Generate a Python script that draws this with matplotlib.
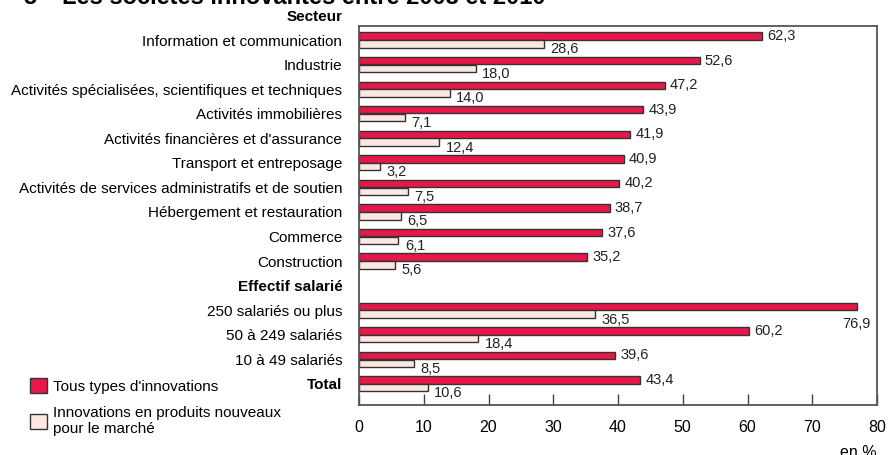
import matplotlib
matplotlib.use("Agg")
import matplotlib.pyplot as plt
from matplotlib.patches import Patch

plt.rcParams['font.family'] = ['Liberation Sans', 'DejaVu Sans']

# rows (group headers have no bars)
labels = ["Information et communication", "Industrie",
          "Activités spécialisées, scientifiques et techniques",
          "Activités immobilières", "Activités financières et d'assurance",
          "Transport et entreposage",
          "Activités de services administratifs et de soutien",
          "Hébergement et restauration", "Commerce", "Construction",
          "Effectif salarié", "250 salariés ou plus", "50 à 249 salariés",
          "10 à 49 salariés", "Total"]
headers = ["Effectif salarié", "Total"]
tous = [62.3, 52.6, 47.2, 43.9, 41.9, 40.9, 40.2, 38.7, 37.6, 35.2,
        None, 76.9, 60.2, 39.6, 43.4]
nouveaux = [28.6, 18.0, 14.0, 7.1, 12.4, 3.2, 7.5, 6.5, 6.1, 5.6,
            None, 36.5, 18.4, 8.5, 10.6]
xticks = [0, 10, 20, 30, 40, 50, 60, 70, 80]

red = '#E8174A'
pink = '#FDE7E3'
edge = '#333333'


def fmt(v):
    return f"{v:.1f}".replace('.', ',')


fig = plt.figure(figsize=(8.93, 4.55), dpi=100)
ax = fig.add_axes([359 / 893, 50 / 455, 518 / 893, 379 / 455])

h = 0.3
for i, (a, b) in enumerate(zip(tous, nouveaux)):
    if a is None:
        continue
    ax.barh(i - 0.16, a, height=h, color=red, edgecolor=edge, linewidth=1)
    ax.barh(i + 0.16, b, height=h, color=pink, edgecolor=edge, linewidth=1)
    if a > 75:
        ax.text(a, i + 0.55, fmt(a), ha='center', va='center', fontsize=10.5, color='#222222')
    else:
        ax.text(a + 0.8, i - 0.16, fmt(a), ha='left', va='center', fontsize=10.5, color='#222222')
    ax.text(b + 1.0, i + 0.38, fmt(b), ha='left', va='center', fontsize=10.5, color='#222222')

ax.set_xlim(0, 80)
ax.set_ylim(14.86, -0.57)
ax.set_xticks(xticks)
ax.set_xticklabels([str(t) for t in xticks], fontsize=11.5)
ax.tick_params(axis='x', direction='in', length=8, width=1, color='#444444', pad=11)
ax.set_yticks(range(len(labels)))
ax.set_yticklabels(labels, fontsize=11)
ax.tick_params(axis='y', length=0, pad=12)
for t in ax.get_yticklabels():
    if t.get_text() in headers:
        t.set_fontweight('bold')
for s in ax.spines.values():
    s.set_color('#555555')
    s.set_linewidth(1.3)

ax.text(-0.031, -0.94, "Secteur", transform=ax.get_yaxis_transform(), ha='right',
        va='center', fontsize=11, fontweight='bold', clip_on=False)
ax.text(1.0, -0.125, "en %", transform=ax.transAxes, ha='right', va='center', fontsize=11.5)

fig.text(23 / 893, 1 - 4 / 455, "5", fontsize=17, fontweight='bold', va='baseline')
fig.text(62 / 893, 1 - 4 / 455, "Les sociétés innovantes entre 2008 et 2010", fontsize=17,
         fontweight='bold', va='baseline')

handles = [Patch(facecolor=red, edgecolor=edge, linewidth=1),
           Patch(facecolor=pink, edgecolor=edge, linewidth=1)]
fig.legend(handles, ["Tous types d'innovations",
                     "Innovations en produits nouveaux\npour le marché"],
           loc='upper left', bbox_to_anchor=(24 / 893, 1 - 372 / 455), frameon=False,
           fontsize=11, handlelength=1.1, handleheight=1.1, handletextpad=0.4,
           labelspacing=0.8, borderaxespad=0)

fig.savefig("out.png", dpi=100)
